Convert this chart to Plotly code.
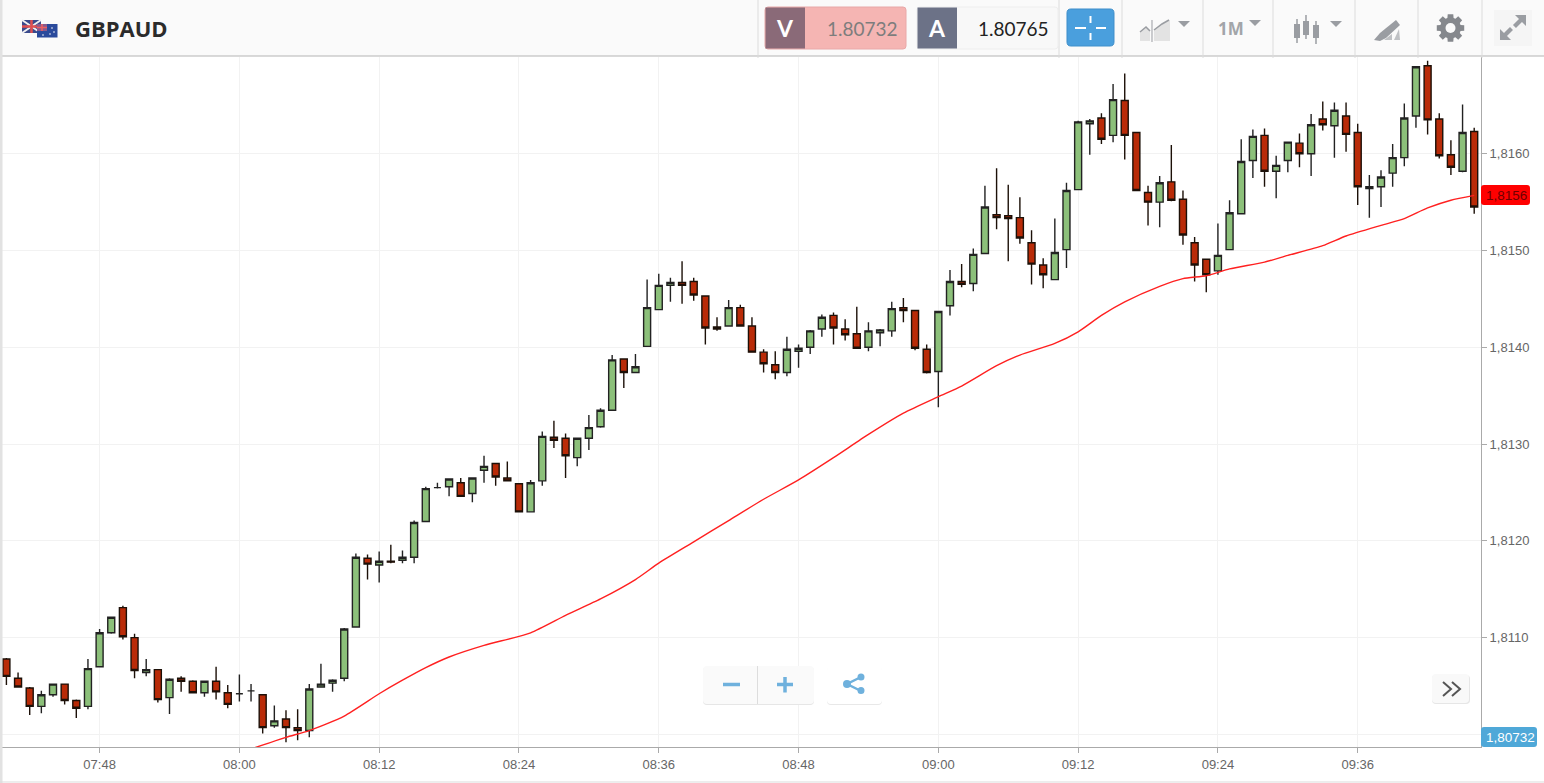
import math
import pandas as pd
import plotly.graph_objects as go

W, H = 1544, 783

# one candle per minute, 07:40 - 09:46
times = pd.date_range("2017-06-01 07:40", periods=127, freq="min")

open_ = [1.81078, 1.81058, 1.81048, 1.81029, 1.81041, 1.81052, 1.81035, 1.81029, 1.81070, 1.81105,
         1.81131, 1.81100, 1.81064, 1.81067, 1.81038, 1.81058, 1.81055, 1.81043, 1.81055, 1.81043,
         1.81042, 1.81045, 1.81041, 1.81009, 1.81016, 1.81007, 1.81004, 1.81049, 1.81053, 1.81058,
         1.81111, 1.81182, 1.81175, 1.81179, 1.81180, 1.81183, 1.81220, 1.81255, 1.81256, 1.81260,
         1.81249, 1.81273, 1.81280, 1.81265, 1.81259, 1.81230, 1.81262, 1.81307, 1.81306, 1.81286,
         1.81306, 1.81318, 1.81335, 1.81388, 1.81374, 1.81401, 1.81439, 1.81464, 1.81467, 1.81468,
         1.81453, 1.81421, 1.81422, 1.81441, 1.81422, 1.81395, 1.81382, 1.81374, 1.81396, 1.81400,
         1.81419, 1.81433, 1.81419, 1.81414, 1.81400, 1.81415, 1.81417, 1.81441, 1.81438, 1.81398,
         1.81375, 1.81443, 1.81468, 1.81466, 1.81497, 1.81537, 1.81536, 1.81534, 1.81508, 1.81485,
         1.81470, 1.81501, 1.81563, 1.81631, 1.81637, 1.81619, 1.81655, 1.81622, 1.81560, 1.81550,
         1.81571, 1.81553, 1.81508, 1.81491, 1.81479, 1.81501, 1.81538, 1.81593, 1.81619, 1.81582,
         1.81593, 1.81611, 1.81600, 1.81636, 1.81629, 1.81639, 1.81622, 1.81564, 1.81566, 1.81580,
         1.81596, 1.81639, 1.81691, 1.81636, 1.81599, 1.81582, 1.81623]

close = [1.81060, 1.81049, 1.81029, 1.81041, 1.81052, 1.81035, 1.81027, 1.81068, 1.81105, 1.81121,
         1.81101, 1.81066, 1.81067, 1.81036, 1.81057, 1.81055, 1.81043, 1.81055, 1.81044, 1.81031,
         1.81042, 1.81045, 1.81007, 1.81014, 1.81007, 1.81004, 1.81047, 1.81052, 1.81056, 1.81109,
         1.81183, 1.81176, 1.81179, 1.81178, 1.81183, 1.81219, 1.81254, 1.81255, 1.81264, 1.81246,
         1.81265, 1.81277, 1.81266, 1.81262, 1.81230, 1.81260, 1.81308, 1.81304, 1.81288, 1.81306,
         1.81317, 1.81335, 1.81387, 1.81374, 1.81380, 1.81441, 1.81464, 1.81467, 1.81464, 1.81454,
         1.81420, 1.81419, 1.81441, 1.81422, 1.81395, 1.81383, 1.81374, 1.81398, 1.81399, 1.81417,
         1.81431, 1.81420, 1.81413, 1.81399, 1.81417, 1.81418, 1.81440, 1.81438, 1.81399, 1.81374,
         1.81437, 1.81468, 1.81465, 1.81496, 1.81545, 1.81534, 1.81533, 1.81513, 1.81486, 1.81475,
         1.81498, 1.81562, 1.81633, 1.81634, 1.81615, 1.81656, 1.81619, 1.81562, 1.81550, 1.81570,
         1.81552, 1.81516, 1.81485, 1.81475, 1.81495, 1.81539, 1.81592, 1.81618, 1.81582, 1.81588,
         1.81612, 1.81600, 1.81630, 1.81630, 1.81645, 1.81620, 1.81566, 1.81566, 1.81576, 1.81596,
         1.81637, 1.81690, 1.81635, 1.81598, 1.81586, 1.81622, 1.81545]

high = [1.81079, 1.81064, 1.81049, 1.81045, 1.81052, 1.81052, 1.81036, 1.81078, 1.81109, 1.81121,
        1.81133, 1.81104, 1.81078, 1.81067, 1.81058, 1.81060, 1.81056, 1.81055, 1.81070, 1.81051,
        1.81062, 1.81052, 1.81041, 1.81030, 1.81025, 1.81026, 1.81052, 1.81073, 1.81057, 1.81110,
        1.81187, 1.81186, 1.81189, 1.81196, 1.81190, 1.81221, 1.81256, 1.81260, 1.81264, 1.81265,
        1.81265, 1.81288, 1.81280, 1.81282, 1.81259, 1.81263, 1.81313, 1.81324, 1.81311, 1.81306,
        1.81330, 1.81337, 1.81392, 1.81388, 1.81393, 1.81470, 1.81476, 1.81472, 1.81489, 1.81472,
        1.81453, 1.81431, 1.81449, 1.81444, 1.81431, 1.81398, 1.81396, 1.81411, 1.81403, 1.81418,
        1.81434, 1.81436, 1.81429, 1.81442, 1.81426, 1.81419, 1.81447, 1.81451, 1.81438, 1.81403,
        1.81437, 1.81480, 1.81486, 1.81502, 1.81567, 1.81585, 1.81568, 1.81555, 1.81521, 1.81492,
        1.81533, 1.81570, 1.81634, 1.81636, 1.81642, 1.81672, 1.81683, 1.81622, 1.81567, 1.81577,
        1.81609, 1.81562, 1.81514, 1.81491, 1.81528, 1.81552, 1.81615, 1.81625, 1.81626, 1.81598,
        1.81612, 1.81621, 1.81641, 1.81654, 1.81653, 1.81653, 1.81631, 1.81578, 1.81583, 1.81610,
        1.81652, 1.81690, 1.81696, 1.81642, 1.81614, 1.81651, 1.81627]

low = [1.81051, 1.81049, 1.81020, 1.81022, 1.81039, 1.81031, 1.81017, 1.81026, 1.81070, 1.81104,
       1.81098, 1.81058, 1.81060, 1.81033, 1.81021, 1.81044, 1.81043, 1.81039, 1.81036, 1.81027,
       1.81034, 1.81034, 1.81001, 1.81007, 1.80992, 1.80994, 1.80997, 1.81049, 1.81044, 1.81055,
       1.81111, 1.81160, 1.81157, 1.81177, 1.81177, 1.81177, 1.81220, 1.81254, 1.81246, 1.81246,
       1.81240, 1.81260, 1.81257, 1.81262, 1.81230, 1.81230, 1.81257, 1.81296, 1.81265, 1.81277,
       1.81294, 1.81317, 1.81335, 1.81358, 1.81374, 1.81401, 1.81439, 1.81447, 1.81445, 1.81448,
       1.81403, 1.81417, 1.81422, 1.81422, 1.81395, 1.81374, 1.81367, 1.81370, 1.81379, 1.81393,
       1.81411, 1.81403, 1.81407, 1.81399, 1.81396, 1.81401, 1.81411, 1.81426, 1.81397, 1.81373,
       1.81338, 1.81433, 1.81462, 1.81458, 1.81497, 1.81522, 1.81489, 1.81507, 1.81465, 1.81461,
       1.81470, 1.81482, 1.81563, 1.81599, 1.81610, 1.81612, 1.81594, 1.81562, 1.81526, 1.81524,
       1.81551, 1.81506, 1.81468, 1.81457, 1.81475, 1.81501, 1.81538, 1.81575, 1.81566, 1.81554,
       1.81581, 1.81586, 1.81577, 1.81624, 1.81596, 1.81602, 1.81547, 1.81534, 1.81545, 1.81566,
       1.81587, 1.81627, 1.81620, 1.81595, 1.81578, 1.81581, 1.81538]

# moving average, read at the minutes below
ma_minutes = ["08:01", "08:04", "08:06", "08:09", "08:12", "08:14", "08:16", "08:18", "08:21", "08:25",
              "08:28", "08:31", "08:34", "08:36", "08:39", "08:42", "08:45", "08:48", "08:51", "08:54",
              "08:57", "09:00", "09:02", "09:05", "09:07", "09:10", "09:12", "09:14", "09:16", "09:19",
              "09:21", "09:23", "09:25", "09:28", "09:30", "09:33", "09:35", "09:38", "09:40", "09:42",
              "09:44", "09:46"]
ma_values = [1.80985, 1.80997, 1.81004, 1.81019, 1.81042, 1.81056, 1.81069, 1.81080, 1.81092, 1.81105,
             1.81123, 1.81140, 1.81160, 1.81177, 1.81199, 1.81221, 1.81243, 1.81263, 1.81286, 1.81310,
             1.81332, 1.81349, 1.81360, 1.81381, 1.81392, 1.81404, 1.81416, 1.81433, 1.81447, 1.81463,
             1.81471, 1.81474, 1.81481, 1.81488, 1.81495, 1.81505, 1.81515, 1.81526, 1.81533, 1.81544,
             1.81552, 1.81557]

# the 1,8100 label sits under the blue price tag
price_ticks = [1.81, 1.811, 1.812, 1.813, 1.814, 1.815, 1.816]
price_labels = ["", "1,8110", "1,8120", "1,8130", "1,8140", "1,8150", "1,8160"]

bid_text = "1.80732"
ask_text = "1.80765"
last_ma_tag = "1,8156"
last_bid_tag = "1,80732"

BLUE = "#6fb1dd"
ICON = "#9a9da2"


# toolbar/buttons are placed in screen pixels
def px(x):
    return x / W


def py(y):
    return 1 - y / H


shapes = []
annotations = []


def rect(x0, y0, x1, y1, fill, line=None, lw=1):
    shapes.append(dict(type="rect", xref="paper", yref="paper", x0=px(x0), x1=px(x1), y0=py(y0), y1=py(y1),
                       fillcolor=fill, line=dict(color=line or "rgba(0,0,0,0)", width=lw if line else 0)))


def path(points, fill=None, line=None, lw=1, close_it=True):
    d = "M" + " L".join(f"{px(a):.5f},{py(b):.5f}" for a, b in points)
    if close_it:
        d += " Z"
    shapes.append(dict(type="path", xref="paper", yref="paper", path=d, fillcolor=fill or "rgba(0,0,0,0)",
                       line=dict(color=line or "rgba(0,0,0,0)", width=lw if line else 0)))


def rrect(x0, y0, x1, y1, r, fill, line=None, lw=1):
    def c(a, b):
        return f"{px(a):.5f},{py(b):.5f}"
    d = (f"M{c(x0 + r, y0)} L{c(x1 - r, y0)} Q{c(x1, y0)} {c(x1, y0 + r)} L{c(x1, y1 - r)} "
         f"Q{c(x1, y1)} {c(x1 - r, y1)} L{c(x0 + r, y1)} Q{c(x0, y1)} {c(x0, y1 - r)} "
         f"L{c(x0, y0 + r)} Q{c(x0, y0)} {c(x0 + r, y0)} Z")
    shapes.append(dict(type="path", xref="paper", yref="paper", path=d, fillcolor=fill,
                       line=dict(color=line or "rgba(0,0,0,0)", width=lw if line else 0)))


def circle(cx, cy, r, fill):
    shapes.append(dict(type="circle", xref="paper", yref="paper", x0=px(cx - r), x1=px(cx + r),
                       y0=py(cy + r), y1=py(cy - r), fillcolor=fill, line=dict(width=0)))


def label(x, y, text, size, color, family="Liberation Sans", anchor="left"):
    annotations.append(dict(xref="paper", yref="paper", x=px(x), y=py(y), text=text, showarrow=False,
                            xanchor=anchor, yanchor="middle", borderpad=0,
                            font=dict(size=size, color=color, family=family)))


def caret(cx, cy):
    path([(cx - 6, cy - 3), (cx + 6, cy - 3), (cx, cy + 3)], fill=ICON)


# --- header bar ---
rect(0, 0, W, 56, "#fafafa")
path([(0, 56), (W, 56)], line="#b4b4b4", lw=1, close_it=False)
rect(0, 0, 2.5, H, "#e2e2e2")
path([(0, 782), (W, 782)], line="#dddddd", lw=1, close_it=False)
for sx in [758, 1059, 1122, 1203, 1273, 1355, 1418, 1482]:
    path([(sx, 0), (sx, 58)], line="#dcdcdc", lw=1, close_it=False)

# flags
rect(22, 20, 41, 33, "#3a4a8c")
path([(22, 20), (41, 33)], line="#f0f0f0", lw=2, close_it=False)
path([(41, 20), (22, 33)], line="#f0f0f0", lw=2, close_it=False)
path([(31.5, 20), (31.5, 33)], line="#e05050", lw=2.5, close_it=False)
path([(22, 26.5), (41, 26.5)], line="#e05050", lw=2.5, close_it=False)
rect(37, 24, 57.5, 37.5, "#2a4a9c")
rect(37, 24, 47, 31, "#8a5a8c")
path([(37, 27.5), (47, 27.5)], line="#ee6060", lw=1.5, close_it=False)
path([(42, 24), (42, 31)], line="#ee6060", lw=1.5, close_it=False)
for sx, sy in [(52, 28), (54, 32), (50, 34), (43, 35)]:
    circle(sx, sy, 0.8, "#ffffff")
label(74, 28, "<b>GBPAUD</b>", 22, "#2b2b2b", "Open Sans")

# bid / ask
rrect(765, 7, 906, 49, 3, "#f5b5b3", "#e8a8a8")
rect(765.5, 7.5, 805, 48.5, "#8a6a78")
label(785, 28, "<b>V</b>", 23, "#ffffff", "Lato", "center")
label(899, 28, bid_text, 19, "#7d7d7d", "Lato", "right")
rrect(917, 7, 1058, 49, 3, "#f8f8f8", "#eeeeee")
rect(917.5, 7.5, 957, 48.5, "#6c7287")
label(937, 28, "<b>A</b>", 23, "#ffffff", "Lato", "center")
label(1050, 28, ask_text, 19, "#222222", "Lato", "right")

# crosshair button
rrect(1067, 9, 1114, 46, 4, "#4a9fdd", "#3f8fca")
for seg in [[(1075, 28), (1086, 28)], [(1096, 28), (1106, 28)], [(1090.5, 16), (1090.5, 23)], [(1090.5, 33), (1090.5, 40)]]:
    path(seg, line="#ffffff", lw=2, close_it=False)

# chart type icon
path([(1140, 32), (1146, 27), (1150, 31), (1150, 41), (1140, 41)], fill="#e3e3e3")
path([(1154, 30), (1162, 24), (1170, 20), (1170, 41), (1154, 41)], fill="#e3e3e3")
path([(1140, 32), (1146, 27), (1150, 31)], line=ICON, lw=1.5, close_it=False)
path([(1154, 30), (1162, 24), (1169, 20)], line=ICON, lw=1.5, close_it=False)
path([(1152, 20), (1152, 42)], line=ICON, lw=1, close_it=False)
caret(1184, 24)

label(1217, 28, "<b>1M</b>", 17, "#a2a5a9", "Open Sans")
caret(1255, 23)

# candle icon
for cx, t, b, wt, wb in [(1297, 24, 38, 19, 43), (1306, 21, 35, 15, 39), (1316, 25, 38, 21, 44)]:
    path([(cx, wt), (cx, wb)], line=ICON, lw=1.5, close_it=False)
    rect(cx - 3, t, cx + 3, b, ICON)
caret(1336, 24)

# drawing tools icon
path([(1374, 40), (1380, 33), (1396, 20), (1400, 25), (1386, 38), (1380, 41)], fill=ICON)
path([(1384, 40), (1392, 34), (1392, 40)], fill="#bfc1c4")
path([(1394, 40), (1399, 29), (1400, 40)], fill="#bfc1c4")

# gear
gear = []
for k in range(8):
    a = k * math.pi / 4
    for da, r in [(-0.30, 10.5), (-0.20, 14), (0.20, 14), (0.30, 10.5)]:
        gear.append((1450.5 + r * math.cos(a + da), 28 + r * math.sin(a + da)))
path(gear, fill="#85888d")
circle(1450.5, 28, 5, "#fafafa")

# expand button
rect(1494, 10, 1532, 46, "#f5f5f5")
path([(1500, 29), (1500, 40), (1511, 40), (1507, 36), (1513, 30), (1510, 27), (1504, 33)], fill=ICON)
path([(1526, 15), (1526, 26), (1522, 22), (1516, 28), (1513, 25), (1519, 19), (1515, 15)], fill=ICON)

# zoom and share buttons
rrect(703, 667, 814, 705, 4, "#e6e6e6")
rrect(703, 666, 814, 704, 4, "#fafafa")
path([(757.5, 666), (757.5, 704)], line="#dddddd", lw=1, close_it=False)
path([(723, 684.5), (740, 684.5)], line=BLUE, lw=3.5, close_it=False)
path([(777, 684.5), (793, 684.5)], line=BLUE, lw=3.5, close_it=False)
path([(785, 677), (785, 692.5)], line=BLUE, lw=3.5, close_it=False)
rrect(827, 667, 882, 705, 4, "#e8e8e8")
rrect(827, 666, 882, 704, 4, "#ffffff")
path([(861, 677), (847, 684), (861, 691)], line=BLUE, lw=2.5, close_it=False)
circle(847, 684, 4, BLUE)
circle(861, 677, 3.5, BLUE)
circle(861, 690.5, 3.5, BLUE)

# scroll to latest button
rrect(1432, 675, 1470, 704, 4, "#e6e6e6")
rrect(1432, 674, 1469, 703, 4, "#f9f9f9")
path([(1443, 682), (1451, 689), (1443, 696)], line="#555555", lw=2, close_it=False)
path([(1452, 682), (1460, 689), (1452, 696)], line="#555555", lw=2, close_it=False)

# price tags on the axis
rrect(1481, 185, 1530, 205, 3, "#ff0000")
label(1506.5, 195.5, last_ma_tag, 13.5, "#6e0000", anchor="center")
rrect(1481, 727, 1537, 747, 3, "#4fa8d8")
label(1510, 737.5, last_bid_tag, 13.5, "#ffffff", anchor="center")

fig = go.Figure()

fig.add_trace(go.Scatter(
    x=[f"2017-06-01 {m}" for m in ma_minutes],
    y=ma_values,
    mode="lines",
    line=dict(color="#ff2020", width=1.4, shape="spline", smoothing=0.6),
    showlegend=False,
))

fig.add_trace(go.Candlestick(
    x=times,
    open=open_,
    high=high,
    low=low,
    close=close,
    whiskerwidth=0,
    increasing=dict(line=dict(color="#222222", width=1.4), fillcolor="#8cc07a"),
    decreasing=dict(line=dict(color="#1c1008", width=1.4), fillcolor="#b92b08"),
    showlegend=False,
))

fig.update_layout(
    width=W,
    height=H,
    autosize=False,
    margin=dict(l=0, r=0, t=0, b=0),
    paper_bgcolor="white",
    plot_bgcolor="white",
    boxgap=0.4,
    boxgroupgap=0,
    shapes=shapes,
    annotations=annotations,
    xaxis=dict(
        domain=[0, 1481 / W],
        type="date",
        range=["2017-06-01 07:39:27", "2017-06-01 09:46:35"],
        rangeslider=dict(visible=False),
        tick0="2017-06-01 07:48",
        dtick=720000,
        tickformat="%H:%M",
        ticks="outside",
        ticklen=5,
        tickcolor="#aaaaaa",
        showline=True,
        linecolor="#aaaaaa",
        linewidth=1,
        showgrid=True,
        gridcolor="#f2f2f2",
        zeroline=False,
        tickfont=dict(family="Liberation Sans", size=13, color="#666666"),
    ),
    yaxis=dict(
        domain=[1 - 747 / H, 1 - 57 / H],
        side="right",
        range=[1.80987, 1.817],
        tickmode="array",
        tickvals=price_ticks,
        ticktext=price_labels,
        ticks="outside",
        ticklen=5,
        tickcolor="#aaaaaa",
        showline=True,
        linecolor="#aaaaaa",
        linewidth=1,
        showgrid=True,
        gridcolor="#f2f2f2",
        zeroline=False,
        tickfont=dict(family="Liberation Sans", size=13, color="#666666"),
    ),
)

fig.write_html("out.html", post_script="document.body.style.margin='0';document.body.style.overflow='hidden';",
               config=dict(displayModeBar=False))
